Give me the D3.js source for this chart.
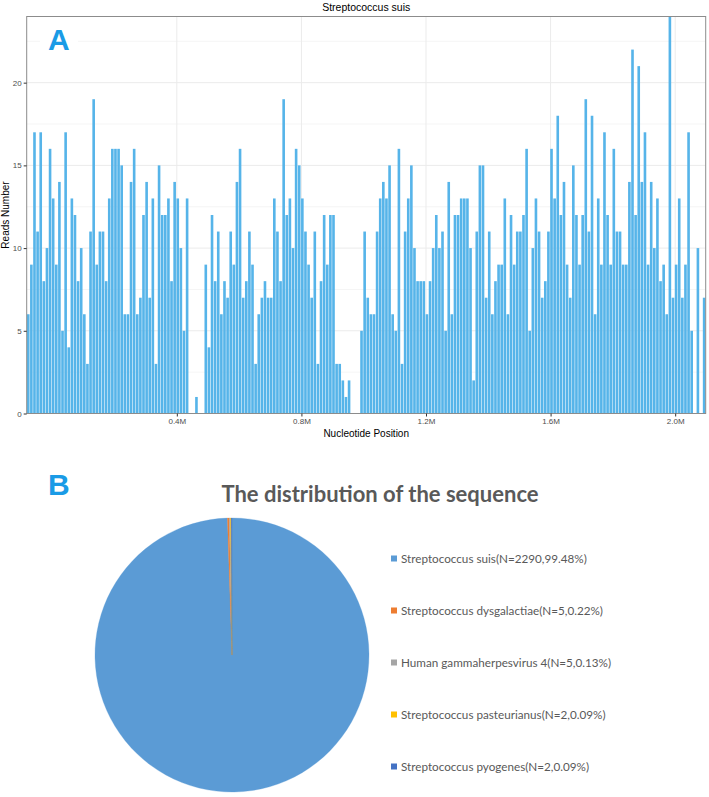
<!DOCTYPE html>
<html><head><meta charset="utf-8">
<script src="https://cdn.jsdelivr.net/npm/d3@7"></script>
<style>body{margin:0;background:#fff}svg{display:block}</style>
</head><body>
<svg id="c" width="709" height="797"></svg>
<script>
// ---------- Panel A data ----------
const chartTitle = "Streptococcus suis";
const binSize = 10000;
const firstBinStart = -82000;
const readsNumber = [
6,9,17,11,17,8,10,16,13,9,14,5,17,4,13,12,8,10,6,3,11,19,9,11,11,8,13,16,16,16,15,6,6,14,16,6,
7,12,14,7,13,3,15,12,12,13,8,14,13,10,5,13,0,0,1,0,0,9,4,12,8,11,6,8,7,11,9,14,16,7,8,11,9,
3,6,7,8,7,7,13,11,8,19,12,13,10,16,15,13,11,9,7,11,3,8,12,9,12,12,3,3,2,1,2,0,0,0,5,11,7,
6,6,11,13,14,13,15,6,5,16,3,11,13,15,10,8,8,8,6,8,10,12,10,11,5,14,6,12,12,13,13,13,10,2,11,15,
15,7,11,6,8,9,9,13,6,12,9,11,11,12,16,5,10,13,11,7,8,11,16,13,18,12,14,9,7,15,12,9,12,19,11,18,6,
13,9,17,12,9,16,11,11,9,9,14,22,12,21,14,17,9,14,10,13,8,9,6,24,7,9,13,7,9,17,5,0,10,0,7
];
const xTicks = [400000, 800000, 1200000, 1600000, 2000000];
const yTicks = [0, 5, 10, 15, 20];
const yMinor = [2.5, 7.5, 12.5, 17.5, 22.5];

// ---------- Panel B data ----------
const pieTitle = "The distribution of the sequence";
const species = ["Streptococcus suis", "Streptococcus dysgalactiae", "Human gammaherpesvirus 4",
                 "Streptococcus pasteurianus", "Streptococcus pyogenes"];
const counts = [2290, 5, 5, 2, 2];
const percents = [99.48, 0.22, 0.13, 0.09, 0.09];
const pieColors = ["#5B9BD5", "#ED7D31", "#A5A5A5", "#FFC000", "#4472C4"];

const svg = d3.select("#c");

// ---------- Panel A ----------
const L = 26.7, R = 705.7, T = 16.5, B = 413.5;
const x = d3.scaleLinear().domain([firstBinStart, firstBinStart + readsNumber.length * binSize]).range([L, R]);
const y = d3.scaleLinear().domain([0, 24]).range([B, T]);
const gA = svg.append("g");

gA.append("g").selectAll("line.minor").data(yMinor).join("line")
  .attr("x1", L).attr("x2", R).attr("y1", d => y(d)).attr("y2", d => y(d))
  .attr("stroke", "#F3F3F3").attr("stroke-width", 0.8);
gA.append("g").selectAll("line.major").data(yTicks).join("line")
  .attr("x1", L).attr("x2", R).attr("y1", d => y(d)).attr("y2", d => y(d))
  .attr("stroke", "#EBEBEB").attr("stroke-width", 1);
gA.append("g").selectAll("line.vx").data(xTicks).join("line")
  .attr("x1", d => x(d)).attr("x2", d => x(d)).attr("y1", T).attr("y2", B)
  .attr("stroke", "#EBEBEB").attr("stroke-width", 1);

const bw = x(binSize) - x(0);
gA.append("g").selectAll("rect").data(readsNumber).join("rect")
  .attr("x", (d, i) => x(firstBinStart + i * binSize) + 0.25)
  .attr("width", bw - 0.5)
  .attr("y", d => y(d))
  .attr("height", d => y(0) - y(d))
  .attr("fill", "#56B4E9");

gA.append("rect").attr("x", L).attr("y", T).attr("width", R - L).attr("height", B - T)
  .attr("fill", "none").attr("stroke", "#8C8C8C").attr("stroke-width", 1);

const xAxis = gA.append("g").attr("transform", `translate(0,${B})`)
  .call(d3.axisBottom(x).tickValues(xTicks).tickSize(3).tickPadding(2)
    .tickFormat(d => d3.format(".1f")(d / 1e6) + "M"));
xAxis.select(".domain").remove();
xAxis.selectAll("line").attr("stroke", "#333");
xAxis.selectAll("text").attr("font-family", "Liberation Sans, Arial, sans-serif").attr("font-size", 8).attr("fill", "#4D4D4D");

const yAxis = gA.append("g").attr("transform", `translate(${L},0)`)
  .call(d3.axisLeft(y).tickValues(yTicks).tickSize(3).tickPadding(2));
yAxis.select(".domain").remove();
yAxis.selectAll("line").attr("stroke", "#333");
yAxis.selectAll("text").attr("font-family", "Liberation Sans, Arial, sans-serif").attr("font-size", 8).attr("fill", "#4D4D4D");

gA.append("text").attr("x", (L + R) / 2).attr("y", 11).attr("text-anchor", "middle")
  .attr("font-family", "Liberation Sans, Arial, sans-serif").attr("font-size", 10.5).attr("fill", "#000")
  .text(chartTitle);
gA.append("text").attr("x", (L + R) / 2).attr("y", 437).attr("text-anchor", "middle")
  .attr("font-family", "Liberation Sans, Arial, sans-serif").attr("font-size", 10).attr("fill", "#000")
  .text("Nucleotide Position");
gA.append("text").attr("transform", `translate(9,${(T + B) / 2}) rotate(-90)`).attr("text-anchor", "middle")
  .attr("font-family", "Liberation Sans, Arial, sans-serif").attr("font-size", 10).attr("fill", "#000")
  .text("Reads Number");

// label A
svg.append("rect").attr("x", 40).attr("y", 22).attr("width", 38).attr("height", 34).attr("fill", "#fff");
svg.append("text").attr("x", 48).attr("y", 50).attr("font-family", "Liberation Sans, Arial, sans-serif")
  .attr("font-weight", "bold").attr("font-size", 30).attr("fill", "#1A9BE6").text("A");

// ---------- Panel B ----------
svg.append("text").attr("x", 48).attr("y", 495).attr("font-family", "Liberation Sans, Arial, sans-serif")
  .attr("font-weight", "bold").attr("font-size", 30).attr("fill", "#1A9BE6").text("B");
svg.append("text").attr("x", 380).attr("y", 502).attr("text-anchor", "middle")
  .attr("font-family", "Lato, Open Sans, sans-serif").attr("font-weight", "bold")
  .attr("font-size", 22).attr("fill", "#595959").text(pieTitle);

const pieData = species.map((s, i) => ({ s, n: counts[i], p: percents[i], c: pieColors[i] }));
const pie = d3.pie().value(d => d.p).sort(null);
const arc = d3.arc().innerRadius(0).outerRadius(137);
svg.append("g").attr("transform", "translate(232,655)")
  .selectAll("path").data(pie(pieData)).join("path")
  .attr("d", arc).attr("fill", d => d.data.c)
  .attr("stroke", d => d.data.c).attr("stroke-width", 0.3);

const legendY = d3.scalePoint().domain(species).range([559, 767]);
const lg = svg.append("g").selectAll("g").data(pieData).join("g")
  .attr("transform", d => `translate(391,${legendY(d.s)})`);
lg.append("rect").attr("x", 0).attr("y", -3.5).attr("width", 6).attr("height", 6).attr("fill", d => d.c);
lg.append("text").attr("x", 10).attr("y", 3.8)
  .attr("font-family", "Lato, Open Sans, sans-serif").attr("font-size", 11.7).attr("fill", "#595959")
  .text(d => `${d.s}(N=${d.n},${d.p}%)`);
</script>
</body></html>
